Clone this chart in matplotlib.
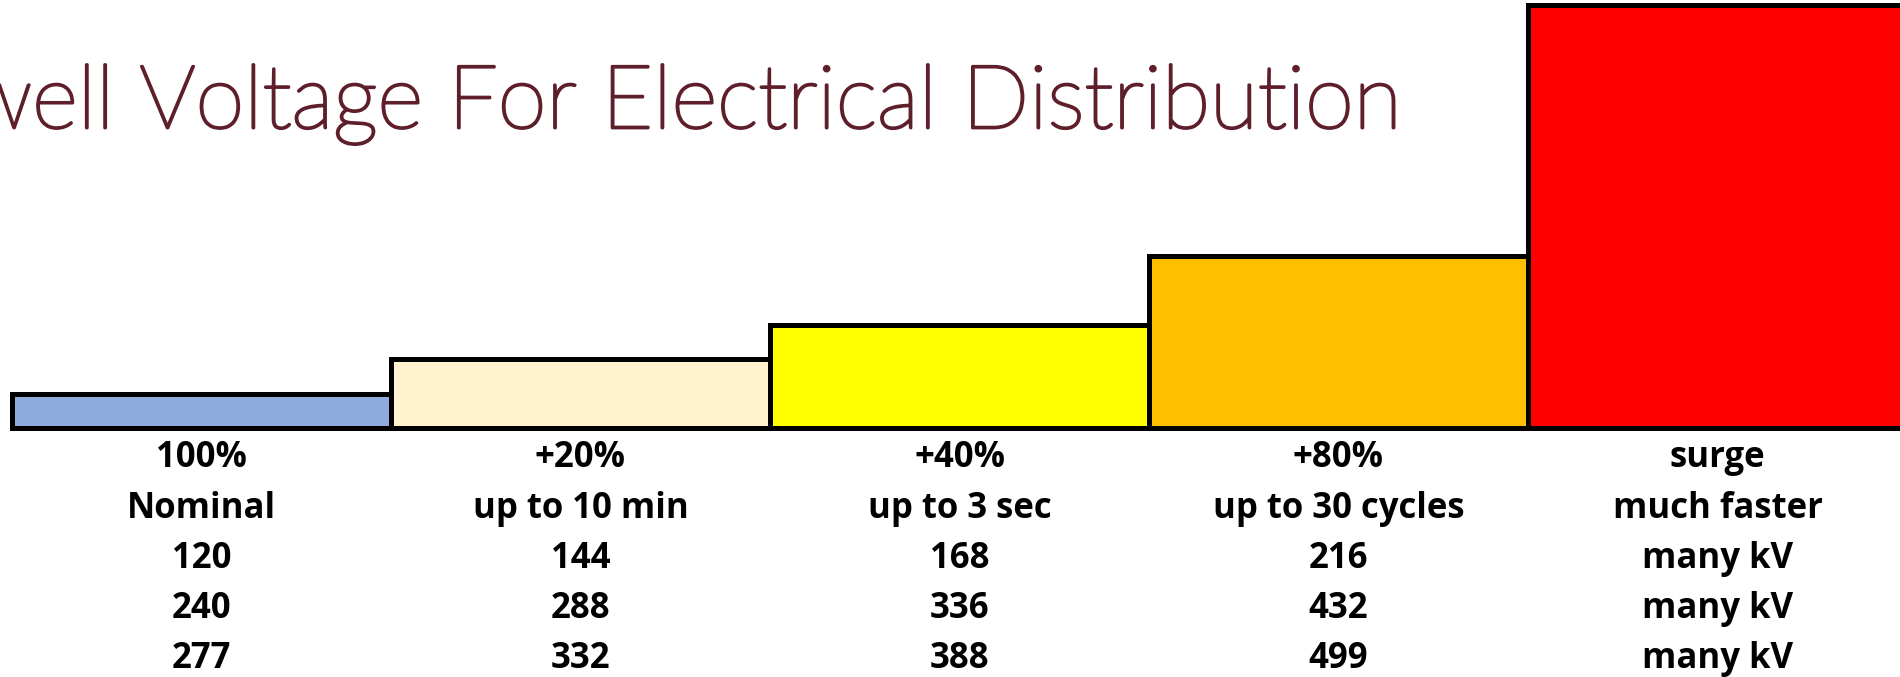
import matplotlib
matplotlib.use('Agg')
from matplotlib import pyplot as plt
from matplotlib import patheffects
from matplotlib.transforms import blended_transform_factory

# step heights in units of +20% (bar 1 = 100% nominal), surge runs off the top
bar_heights = [1, 2, 3, 5, 12.26]
bar_colors = ['#8FAADC', '#FFF2CC', '#FFFF00', '#FFC000', '#FF0000']

level_labels = ['100%', '+20%', '+40%', '+80%', 'surge']
duration_labels = ['Nominal', 'up to 10 min', 'up to 3 sec', 'up to 30 cycles', 'much faster']
volts_120 = ['120', '144', '168', '216', 'many kV']
volts_240 = ['240', '288', '336', '432', 'many kV']
volts_277 = ['277', '332', '388', '499', 'many kV']

title = 'Swell Voltage For Electrical Distribution'
title_color = '#5E1F2B'


def main():
    fig = plt.figure(figsize=(19, 6.77), dpi=100)
    ax = fig.add_axes([0, 0, 1, 1])
    ax.set_axis_off()

    x = list(range(len(bar_heights)))
    ax.bar(x, bar_heights, width=1.0, color=bar_colors, edgecolor='black',
           linewidth=3.6, align='center', zorder=2)

    # pixel layout: bar 1 starts at 12px, bars 379px wide, baseline 428px from top
    unit_x = 379.0
    ax.set_xlim(-0.5 - 12 / unit_x, -0.5 + (1900 - 12) / unit_x)
    unit_y = 34.5
    ax.set_ylim(-(677 - 428) / unit_y, 428 / unit_y)

    trans = blended_transform_factory(ax.transData, ax.transAxes)
    rows = [level_labels, duration_labels, volts_120, volts_240, volts_277]
    row_baselines = [467, 518, 568, 618, 668]
    for labels, py in zip(rows, row_baselines):
        for xi, lab in zip(x, labels):
            ax.text(xi, 1 - py / 677, lab, transform=trans, ha='center',
                    va='baseline', fontsize=25, fontweight='bold',
                    family=['Open Sans', 'DejaVu Sans'], color='black')

    # title runs off the left edge of the slide, as in the source
    fig.text(1403 / 1900, 1 - 128 / 677, title, ha='right', va='baseline',
             fontsize=63.5, fontweight='light', family=['Lato', 'DejaVu Sans'],
             color=title_color,
             path_effects=[patheffects.withStroke(linewidth=2.0,
                                                  foreground=title_color)])

    fig.savefig('out.png', dpi=100)
    plt.close(fig)


if __name__ == '__main__':
    main()
